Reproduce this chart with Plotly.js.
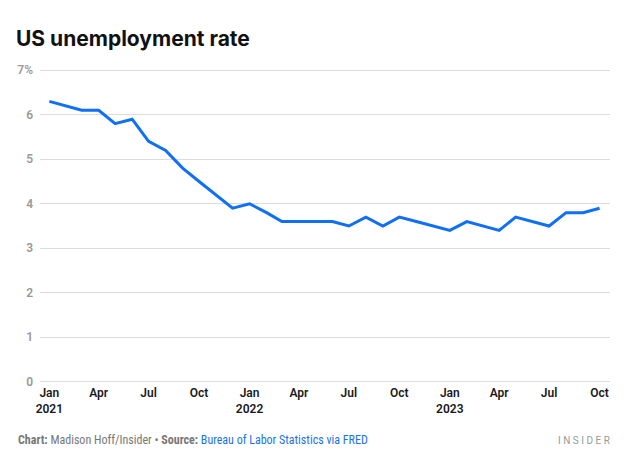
<!DOCTYPE html>
<html>
<head>
<meta charset="utf-8">
<script src="https://cdn.plot.ly/plotly-3.0.1.min.js"></script>
<style>html,body{margin:0;padding:0;background:#fff;}#chart{width:640px;height:464px;}</style>
</head>
<body>
<div id="chart"></div>
<script>
const months = [
  "2021-01-01","2021-02-01","2021-03-01","2021-04-01","2021-05-01","2021-06-01",
  "2021-07-01","2021-08-01","2021-09-01","2021-10-01","2021-11-01","2021-12-01",
  "2022-01-01","2022-02-01","2022-03-01","2022-04-01","2022-05-01","2022-06-01",
  "2022-07-01","2022-08-01","2022-09-01","2022-10-01","2022-11-01","2022-12-01",
  "2023-01-01","2023-02-01","2023-03-01","2023-04-01","2023-05-01","2023-06-01",
  "2023-07-01","2023-08-01","2023-09-01","2023-10-01"
];
const unemploymentRate = [
  6.3, 6.2, 6.1, 6.1, 5.8, 5.9, 5.4, 5.2, 4.8, 4.5, 4.2, 3.9,
  4.0, 3.8, 3.6, 3.6, 3.6, 3.6, 3.5, 3.7, 3.5, 3.7, 3.6, 3.5,
  3.4, 3.6, 3.5, 3.4, 3.7, 3.6, 3.5, 3.8, 3.8, 3.9
];
const xTickVals = ["2021-01-01","2021-04-01","2021-07-01","2021-10-01","2022-01-01","2022-04-01","2022-07-01","2022-10-01","2023-01-01","2023-04-01","2023-07-01","2023-10-01"];
const xTickText = ["Jan<br>2021","Apr","Jul","Oct","Jan<br>2022","Apr","Jul","Oct","Jan<br>2023","Apr","Jul","Oct"];
const yTickVals = [0,1,2,3,4,5,6,7];
const yTickText = ["0","1","2","3","4","5","6","7%"];

const trace = {
  x: months, y: unemploymentRate, type: "scatter", mode: "lines",
  line: {color: "#0f6ff5", width: 3},
  hoverinfo: "skip"
};

const layout = {
  width: 640, height: 464,
  margin: {l: 40, r: 30, t: 68, b: 80},
  paper_bgcolor: "#fff", plot_bgcolor: "#fff",
  showlegend: false,
  font: {family: "Roboto, 'Liberation Sans', sans-serif", color: "#222"},
  title: {
    text: "<b>US unemployment rate</b>",
    font: {family: "Inter, Roboto, sans-serif", size: 21, color: "#111"},
    x: 16/640, xanchor: "left", xref: "container",
    y: 1 - 39/464, yanchor: "middle", yref: "container"
  },
  xaxis: {
    type: "date",
    range: ["2020-12-15", "2023-10-20"],
    tickmode: "array", tickvals: xTickVals, ticktext: xTickText,
    showgrid: false, zeroline: false, showline: false,
    ticks: "", tickfont: {size: 12, color: "#1a1a1a", weight: 600},
    fixedrange: true
  },
  yaxis: {
    range: [-0.05, 7.05],
    tickmode: "array", tickvals: yTickVals, ticktext: yTickText,
    showgrid: true, gridcolor: "#dcdcdc", gridwidth: 1,
    zeroline: true, zerolinecolor: "#dcdcdc", zerolinewidth: 1,
    showline: false, ticks: "",
    ticklabelstandoff: 6,
    tickfont: {size: 12, color: "#999", weight: 600},
    fixedrange: true
  },
  annotations: [
    {
      xref: "paper", yref: "paper", x: -24/570, y: -56/316,
      xanchor: "left", yanchor: "middle", showarrow: false,
      text: "<b>Chart:</b> Madison Hoff/Insider • <b>Source:</b> <span style='color:#1a73e8'>Bureau of Labor Statistics via FRED</span>",
      font: {family: "'Liberation Sans Narrow', 'Roboto Condensed', Roboto, sans-serif", size: 12, color: "#777"}
    },
    {
      xref: "paper", yref: "paper", x: 1 + 2/570, y: -56/316,
      xanchor: "right", yanchor: "middle", showarrow: false,
      text: "I N S I D E R",
      font: {family: "Roboto, sans-serif", size: 10, color: "#999"}
    }
  ]
};

Plotly.newPlot("chart", [trace], layout, {displayModeBar: false, staticPlot: true});
</script>
</body>
</html>
